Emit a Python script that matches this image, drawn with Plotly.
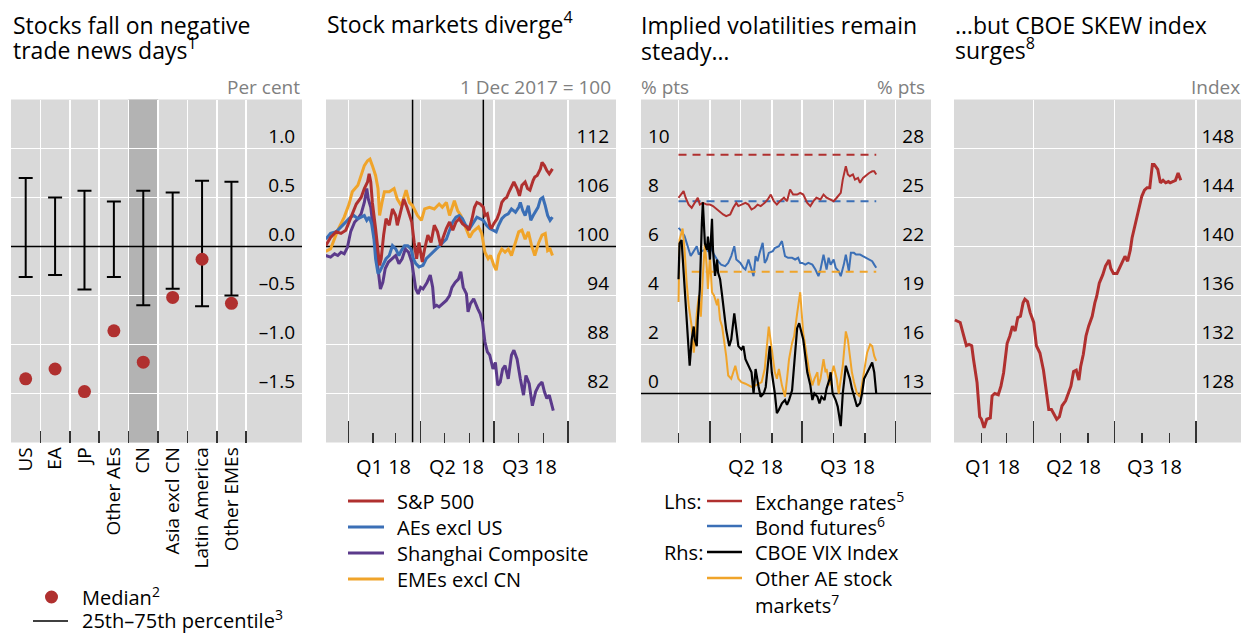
import pandas as pd
import plotly.graph_objects as go

W, H = 1243, 633
FONT = "Open Sans"
RED = "#b0302f"
BLUE = "#3b6fb6"
PURPLE = "#5b3a8b"
ORANGE = "#f0a42a"
BG = "#d9d9d9"

# ---------------- Panel 1 data ----------------
p1_categories = ["US", "EA", "JP", "Other AEs", "CN", "Asia excl CN", "Latin America", "Other EMEs"]
p1_median = [-1.35, -1.25, -1.48, -0.86, -1.18, -0.52, -0.13, -0.58]
p1_p25 = [-0.31, -0.29, -0.44, -0.31, -0.60, -0.43, -0.61, -0.50]
p1_p75 = [0.70, 0.50, 0.57, 0.46, 0.57, 0.55, 0.67, 0.66]
p1_yticks = [-2.0, -1.5, -1.0, -0.5, 0.0, 0.5, 1.0]
p1_yticktext = ["–2.0", "–1.5", "–1.0", "–0.5", "0.0", "0.5", "1.0"]

# ---------------- Panel 2 data (days from 1 Jan 2018) ----------------
p2_sp500_days = [-28, -22, -15, -9, -3, 3, 10, 16, 20, 24, 26, 28, 30, 34, 37, 39, 41, 44, 47, 51,
                 55, 59, 61, 64, 69, 73, 76, 79, 82, 85, 88, 92, 95, 99, 103, 107, 111, 115, 118, 122,
                 126, 130, 134, 138, 142, 147, 150, 154, 157, 160, 164, 168, 170, 173, 176, 178, 181, 185, 188, 191,
                 194, 197, 200, 203, 206, 210, 213, 216, 220, 223, 226, 230, 232, 235, 239, 241, 244, 247, 250, 254]
p2_sp500 = [100.1, 101.1, 101.8, 101.6, 102.0, 103.4, 105.2, 106.0, 107.1, 107.9, 108.9, 107.9, 105.4, 102.2, 99.7,
            97.7, 98.5, 101.4, 103.4, 102.6, 104.6, 103.8, 102.6, 103.8, 105.8, 104.8, 103.8, 103.0, 100.5, 98.5,
            100.5, 98.1, 99.7, 101.4, 100.5, 102.6, 101.8, 100.1, 101.1, 102.2, 103.0, 102.0, 103.0, 103.4, 102.8,
            102.4, 102.0, 103.4, 104.8, 105.4, 105.2, 104.8, 103.8, 104.0, 102.6, 102.2, 102.8, 103.4, 104.2, 105.4,
            105.8, 106.0, 106.7, 107.3, 107.9, 107.1, 106.2, 107.5, 107.9, 107.1, 106.9, 108.1, 108.5, 108.7, 109.5,
            110.3, 109.9, 109.3, 108.9, 109.5]
p2_aes_days = [-28, -22, -15, -7, -1, 3, 7, 12, 16, 20, 23, 26, 29, 32, 34, 37, 39, 43, 47, 51,
               55, 59, 63, 66, 70, 74, 78, 81, 84, 88, 93, 97, 101, 105, 109, 113, 117, 122, 126, 130,
               134, 138, 142, 146, 151, 155, 160, 164, 168, 172, 176, 180, 184, 187, 191, 195, 199, 203, 208, 212,
               214, 217, 220, 224, 227, 230, 234, 236, 239, 242, 245, 248, 251, 254]
p2_aes = [100.9, 101.6, 101.8, 102.6, 103.2, 103.6, 103.8, 103.4, 103.6, 103.8, 103.2, 103.6, 102.8, 100.9, 98.5,
          96.7, 96.9, 97.7, 98.5, 98.9, 100.1, 99.7, 98.9, 99.5, 100.1, 100.1, 99.7, 98.5, 97.9, 97.5,
          97.7, 98.5, 98.9, 99.3, 99.7, 100.1, 100.5, 100.9, 102.0, 103.0, 103.6, 103.8, 103.4, 102.6, 102.2,
          102.8, 103.6, 103.4, 103.2, 102.6, 102.2, 102.0, 101.8, 102.6, 103.4, 103.8, 104.0, 104.6, 104.2, 104.8,
          105.4, 104.4, 103.8, 105.0, 103.2, 103.8, 104.4, 104.8, 105.8, 106.0, 105.0, 103.8, 103.2, 103.6]
p2_shanghai_days = [-28, -22, -17, -13, -9, -5, -1, 3, 8, 12, 16, 20, 23, 25, 28, 31, 34, 37, 40, 43,
                    46, 50, 54, 59, 63, 67, 71, 75, 79, 81, 84, 87, 90, 93, 98, 102, 105, 107, 110, 113,
                    117, 122, 126, 129, 133, 137, 140, 143, 147, 149, 152, 156, 161, 164, 167, 170, 173, 176, 180, 183,
                    186, 189, 192, 195, 199, 203, 206, 210, 214, 218, 221, 225, 229, 233, 237, 241, 244, 247, 250, 253, 255]
p2_shanghai = [98.9, 98.7, 99.1, 98.9, 99.3, 99.1, 99.9, 101.8, 103.0, 103.4, 104.0, 105.4, 107.1, 105.8, 104.8,
               102.2, 99.7, 96.9, 94.8, 95.6, 97.3, 98.1, 98.5, 98.9, 97.9, 98.5, 99.7, 99.3, 98.1, 96.9,
               94.8, 94.2, 95.0, 94.8, 95.6, 96.5, 95.0, 92.6, 92.8, 92.6, 93.0, 93.4, 94.0, 95.0, 95.6,
               96.0, 96.9, 95.0, 94.2, 92.0, 93.0, 93.6, 92.4, 91.8, 90.7, 88.3, 87.1, 86.7, 85.0, 85.8,
               83.0, 83.4, 85.0, 85.4, 83.8, 86.7, 87.3, 86.2, 83.8, 81.8, 84.2, 83.2, 80.5, 82.2, 83.0,
               83.4, 82.2, 81.4, 81.8, 80.5, 79.9]
p2_emes_days = [-28, -22, -13, -5, 1, 5, 12, 16, 20, 24, 27, 30, 34, 37, 39, 42, 45, 51, 57, 61,
                66, 72, 76, 80, 86, 91, 95, 101, 107, 113, 117, 122, 126, 132, 136, 140, 147, 151, 155, 159,
                162, 166, 170, 174, 177, 181, 184, 187, 191, 195, 199, 203, 208, 212, 216, 220, 224, 228, 232, 237,
                241, 245, 248, 251, 254]
p2_emes = [99.4, 99.7, 102.0, 103.6, 105.2, 106.7, 107.5, 108.7, 109.9, 110.5, 110.7, 109.9, 108.7, 107.1, 103.8,
           105.4, 106.7, 106.7, 107.1, 105.8, 105.0, 106.9, 105.4, 105.0, 103.8, 103.2, 104.6, 104.8, 104.6, 105.2,
           104.8, 105.4, 103.8, 105.6, 104.4, 103.8, 102.2, 101.1, 101.8, 102.2, 102.4, 101.6, 99.3, 98.5, 98.9,
           97.7, 97.1, 98.9, 99.7, 99.3, 99.7, 98.9, 100.5, 101.8, 102.0, 100.9, 101.8, 100.1, 98.9, 100.5,
           101.4, 101.6, 99.5, 99.7, 98.9]
p2_event_dates = ["2018-03-22", "2018-06-18"]
p2_base = 100
p2_xrange = ["2017-12-04 08:00", "2018-11-30"]
p2_yrange = [76, 118]
p2_yticks = [76, 82, 88, 94, 100, 106, 112]

# ---------------- Panel 3 data (days from 1 Mar 2018) ----------------
p3_fx_days = [0, 2, 5, 7, 10, 13, 16, 19, 21, 24, 28, 31, 34, 38, 41, 44, 47, 51, 54, 57, 59, 62, 66, 69, 72,
              75, 78, 81, 85, 88, 91, 94, 97, 100, 104, 107, 110, 113, 117, 120, 123, 127, 130, 133, 136, 140, 143,
              146, 150, 153, 156, 160, 162, 165, 167, 169, 172, 174, 177, 179, 182, 184, 188, 191, 193, 195]
p3_fx = [7.99, 8.12, 8.26, 7.99, 7.71, 7.58, 7.78, 7.99, 7.71, 7.78, 7.71, 7.71, 7.65, 7.51, 7.44, 7.31, 7.24,
         7.31, 7.58, 7.78, 7.65, 7.71, 7.78, 7.71, 7.51, 7.58, 7.71, 7.65, 7.78, 7.92, 8.12, 7.85, 7.71, 7.85,
         7.99, 7.85, 8.33, 8.12, 8.12, 8.19, 8.12, 7.78, 7.65, 7.85, 7.99, 7.92, 8.12, 7.99, 7.92, 7.85, 7.99,
         8.19, 8.73, 9.28, 8.94, 8.87, 8.94, 8.73, 8.80, 8.60, 8.80, 8.87, 9.00, 9.07, 9.07, 8.94]
p3_bond_days = [0, 3, 6, 9, 12, 14, 18, 20, 23, 27, 29, 32, 35, 39, 42, 46, 49, 52, 55, 57, 61, 64, 66, 69, 72,
                74, 76, 78, 80, 83, 85, 87, 89, 93, 95, 99, 102, 105, 108, 112, 115, 118, 120, 122, 125, 128, 132,
                135, 138, 140, 143, 146, 148, 150, 153, 155, 158, 160, 163, 165, 168, 170, 173, 175, 179, 182, 185,
                189, 191, 193, 195]
p3_bond = [6.76, 6.63, 6.42, 6.01, 5.61, 5.74, 6.01, 5.67, 5.81, 5.88, 5.81, 5.94, 5.67, 5.40, 5.26, 5.20, 5.33,
           5.61, 6.01, 5.47, 5.33, 5.13, 5.06, 5.47, 4.99, 4.79, 5.61, 5.40, 5.74, 6.15, 5.33, 5.47, 5.74, 5.81,
           5.94, 6.01, 6.22, 5.61, 5.54, 5.54, 5.47, 5.54, 5.33, 5.33, 5.26, 5.33, 5.26, 5.06, 4.79, 5.06, 5.67,
           5.06, 5.54, 5.26, 5.47, 5.13, 4.99, 4.79, 5.26, 5.67, 4.99, 5.74, 5.74, 5.67, 5.67, 5.61, 5.54, 5.47,
           5.40, 5.26, 5.13]
p3_vix_days = [0, 1, 3, 6, 8, 10, 11, 13, 15, 16, 18, 19, 21, 23, 24, 26, 28, 29, 31, 33, 34, 36, 38, 39, 41,
               43, 45, 47, 50, 52, 55, 57, 59, 62, 64, 66, 69, 72, 74, 76, 79, 81, 84, 86, 89, 90, 92, 95, 97, 99,
               102, 105, 107, 109, 112, 114, 117, 119, 121, 123, 125, 127, 130, 132, 134, 137, 139, 141, 144, 146,
               149, 150, 152, 155, 157, 160, 162, 165, 166, 169, 171, 173, 176, 179, 181, 183, 186, 189, 191, 193, 195]
p3_vix = [20.0, 22.2, 22.4, 19.6, 17.7, 15.9, 14.7, 16.3, 17.1, 16.3, 15.9, 17.5, 19.4, 23.4, 24.7, 22.2, 21.8,
          22.6, 21.2, 23.7, 21.8, 20.2, 21.2, 20.4, 20.0, 19.0, 17.9, 16.9, 15.9, 16.3, 17.9, 16.7, 15.9, 15.7,
          15.9, 15.1, 14.7, 14.3, 13.0, 14.5, 13.4, 12.8, 13.0, 13.4, 15.3, 15.9, 14.3, 13.0, 11.8, 12.0, 12.4,
          12.6, 12.3, 12.6, 13.2, 14.9, 17.0, 17.3, 16.8, 16.3, 15.3, 14.3, 13.5, 12.6, 13.0, 12.8, 12.4, 12.8,
          12.6, 13.3, 13.9, 14.3, 13.0, 12.6, 12.2, 11.0, 13.0, 14.7, 14.5, 13.9, 13.3, 12.8, 12.2, 12.4, 13.0,
          13.9, 14.3, 14.7, 14.9, 14.3, 13.0]
p3_stocks_days = [0, 1, 4, 6, 8, 10, 13, 15, 16, 18, 20, 22, 24, 26, 28, 29, 31, 33, 35, 38, 39, 41, 43, 45, 47,
                  49, 52, 54, 56, 59, 62, 66, 69, 72, 76, 79, 82, 85, 87, 89, 92, 95, 97, 99, 102, 105, 107, 109,
                  112, 114, 117, 120, 122, 123, 125, 127, 129, 132, 134, 137, 138, 140, 143, 145, 146, 149, 150,
                  153, 156, 158, 160, 162, 165, 167, 169, 171, 173, 176, 179, 181, 183, 186, 189, 191, 193, 195]
p3_stocks = [18.6, 22.4, 23.1, 21.8, 19.8, 18.4, 17.1, 15.5, 16.1, 17.9, 19.0, 17.7, 20.2, 22.2, 20.6, 19.4, 21.4,
             19.2, 19.0, 18.4, 18.8, 17.5, 17.1, 16.3, 15.3, 14.1, 13.9, 14.3, 14.7, 13.9, 13.7, 13.6, 13.5, 13.4,
             13.5, 13.6, 13.7, 14.5, 15.9, 17.1, 15.7, 14.3, 13.9, 14.5, 13.5, 12.8, 13.9, 15.1, 16.1, 16.5, 17.9,
             19.2, 17.5, 16.7, 15.9, 15.1, 14.3, 13.5, 13.9, 14.3, 13.5, 13.9, 15.1, 14.3, 14.5, 13.5, 13.9, 14.7,
             13.9, 13.0, 13.9, 14.7, 16.8, 16.3, 15.3, 14.3, 13.7, 13.0, 12.8, 13.5, 14.3, 15.5, 16.0, 15.9, 15.3, 15.0]
p3_avg_fx = 9.75
p3_avg_bond = 7.85
p3_avg_stocks = 20.45
p3_avg_days = [0, 195]
p3_avg_stocks_days = [13, 195]
p3_xrange = ["2018-01-23", "2018-11-05"]
p3_lrange = [-2, 12]
p3_rrange = [10, 31]
p3_lticks = [0, 2, 4, 6, 8, 10]
p3_rticks = [10, 13, 16, 19, 22, 25, 28]

# ---------------- Panel 4 data (days from 1 Jan 2018) ----------------
p4_days = [1, 7, 11, 14, 17, 20, 22, 26, 29, 31, 34, 37, 41, 43, 46, 50, 53, 56, 60, 63, 66, 69, 72, 75, 78,
           80, 83, 86, 90, 93, 97, 101, 104, 107, 110, 112, 116, 119, 122, 126, 129, 132, 135, 138, 141, 143, 146,
           149, 152, 156, 159, 161, 164, 168, 171, 175, 177, 180, 184, 188, 191, 193, 196, 199, 201, 204, 207, 210,
           212, 215, 218, 221, 224, 226, 230, 233, 236, 239, 242, 244, 247, 250, 253, 256]
p4_skew = [134.0, 133.8, 132.7, 131.9, 132.0, 131.9, 130.8, 128.9, 126.1, 125.9, 125.2, 125.9, 126.0, 127.8, 128.0,
           127.9, 128.6, 129.7, 132.1, 132.7, 133.5, 133.1, 134.2, 134.3, 135.4, 135.7, 135.5, 134.6, 133.8, 131.9,
           131.3, 129.9, 128.3, 126.7, 126.7, 126.4, 125.9, 126.1, 127.0, 127.4, 128.0, 128.6, 129.8, 129.9, 129.1,
           130.2, 131.2, 132.7, 133.5, 134.3, 135.4, 135.9, 137.0, 137.7, 138.4, 138.9, 138.2, 137.8, 137.8, 138.4,
           138.8, 139.2, 138.8, 139.7, 140.7, 141.6, 142.7, 143.5, 144.1, 144.6, 144.8, 144.8, 146.7, 146.7, 146.3,
           145.2, 145.4, 145.2, 145.3, 145.2, 145.3, 145.4, 146.0, 145.4]
p4_yticks = [124, 128, 132, 136, 140, 144, 148]


def to_dates(base, days):
    return pd.Timestamp(base) + pd.to_timedelta(days, unit="D")


def px_x(px):
    return px / W


def px_y(py):
    return 1 - py / H


TOP, BOT = 99.5, 442.5
YDOM = [px_y(BOT), px_y(TOP)]

fig = go.Figure()

# ---------- Panel 1 traces ----------
fig.add_trace(go.Scatter(
    x=p1_categories, y=p1_p25, mode="markers",
    marker=dict(size=1, color="rgba(0,0,0,0)"),
    error_y=dict(type="data", symmetric=False,
                 array=[hi - lo for hi, lo in zip(p1_p75, p1_p25)],
                 arrayminus=[0] * len(p1_p25), color="black", thickness=2, width=7),
    xaxis="x", yaxis="y", showlegend=False, hoverinfo="skip"))
fig.add_trace(go.Scatter(
    x=p1_categories, y=p1_median, mode="markers",
    marker=dict(size=13, color=RED), xaxis="x", yaxis="y", showlegend=False))

# ---------- Panel 2 traces ----------
fig.add_trace(go.Scatter(x=p2_xrange, y=[p2_base, p2_base], mode="lines",
                         line=dict(color="black", width=1.5), xaxis="x2", yaxis="y2",
                         showlegend=False, hoverinfo="skip"))
for d in p2_event_dates:
    fig.add_trace(go.Scatter(x=[d, d], y=p2_yrange, mode="lines",
                             line=dict(color="black", width=1.5), xaxis="x2", yaxis="y2",
                             showlegend=False, hoverinfo="skip"))
for days, vals, col in [(p2_shanghai_days, p2_shanghai, PURPLE), (p2_emes_days, p2_emes, ORANGE),
                        (p2_aes_days, p2_aes, BLUE), (p2_sp500_days, p2_sp500, RED)]:
    fig.add_trace(go.Scatter(x=to_dates("2018-01-01", days), y=vals, mode="lines",
                             line=dict(color=col, width=3), xaxis="x2", yaxis="y2", showlegend=False))

# ---------- Panel 3 traces ----------
fig.add_trace(go.Scatter(x=p3_xrange, y=[0, 0], mode="lines",
                         line=dict(color="black", width=1.5), xaxis="x3", yaxis="y3",
                         showlegend=False, hoverinfo="skip"))
fig.add_trace(go.Scatter(x=to_dates("2018-03-01", p3_avg_days), y=[p3_avg_fx] * 2, mode="lines",
                         line=dict(color=RED, width=2, dash="8px,6px"), xaxis="x3", yaxis="y3", showlegend=False))
fig.add_trace(go.Scatter(x=to_dates("2018-03-01", p3_avg_days), y=[p3_avg_bond] * 2, mode="lines",
                         line=dict(color=BLUE, width=2, dash="8px,6px"), xaxis="x3", yaxis="y3", showlegend=False))
fig.add_trace(go.Scatter(x=to_dates("2018-03-01", p3_avg_stocks_days), y=[p3_avg_stocks] * 2, mode="lines",
                         line=dict(color=ORANGE, width=2, dash="8px,6px"), xaxis="x3", yaxis="y4", showlegend=False))
fig.add_trace(go.Scatter(x=to_dates("2018-03-01", p3_stocks_days), y=p3_stocks, mode="lines",
                         line=dict(color=ORANGE, width=2), xaxis="x3", yaxis="y4", showlegend=False))
fig.add_trace(go.Scatter(x=to_dates("2018-03-01", p3_vix_days), y=p3_vix, mode="lines",
                         line=dict(color="black", width=2.2), xaxis="x3", yaxis="y4", showlegend=False))
fig.add_trace(go.Scatter(x=to_dates("2018-03-01", p3_bond_days), y=p3_bond, mode="lines",
                         line=dict(color=BLUE, width=2), xaxis="x3", yaxis="y3", showlegend=False))
fig.add_trace(go.Scatter(x=to_dates("2018-03-01", p3_fx_days), y=p3_fx, mode="lines",
                         line=dict(color=RED, width=2), xaxis="x3", yaxis="y3", showlegend=False))

# ---------- Panel 4 traces ----------
fig.add_trace(go.Scatter(x=to_dates("2018-01-01", p4_days), y=p4_skew, mode="lines",
                         line=dict(color=RED, width=3), xaxis="x4", yaxis="y5", showlegend=False))

tickfont = dict(family=FONT, size=19, color="black")
common_y = dict(showgrid=True, gridcolor="white", gridwidth=1.5, zeroline=False, ticks="",
                tickfont=tickfont, ticklabelposition="inside", ticklabelshift=-12, ticklabelstandoff=4,
                fixedrange=True, showline=False)
common_x = dict(showgrid=True, gridcolor="white", gridwidth=1.5, zeroline=False, ticks="inside",
                tickcolor="#333333", tickwidth=1.5, showline=False, fixedrange=True)

quarter_ticks = ["2018-01-01", "2018-04-01", "2018-07-01", "2018-10-01"]
month_ticks = ["2018-02-01", "2018-03-01", "2018-05-01", "2018-06-01", "2018-08-01", "2018-09-01"]

fig.update_layout(
    width=W, height=H, autosize=False,
    margin=dict(l=0, r=0, t=0, b=0),
    paper_bgcolor="white", plot_bgcolor=BG,
    font=dict(family=FONT, size=19, color="black"),
    xaxis=dict(common_x, domain=[px_x(11), px_x(302)], anchor="y", type="category",
               categoryorder="array", categoryarray=p1_categories, range=[-0.5, 9.4],
               tickson="boundaries", ticklen=12, tickangle=-90, tickfont=tickfont),
    yaxis=dict(common_y, domain=YDOM, anchor="x", side="right", range=[-2, 1.5],
               tickmode="array", tickvals=p1_yticks, ticktext=p1_yticktext),
    xaxis2=dict(common_x, domain=[px_x(326), px_x(616)], anchor="y2", type="date",
                range=p2_xrange, tickmode="array", tickvals=quarter_ticks,
                showticklabels=False, ticklen=22,
                minor=dict(tickmode="array", tickvals=month_ticks, ticks="inside", ticklen=10,
                           tickcolor="#333333", tickwidth=1.5, showgrid=False)),
    yaxis2=dict(common_y, domain=YDOM, anchor="x2", side="right", range=p2_yrange,
                tickmode="array", tickvals=p2_yticks),
    xaxis3=dict(common_x, domain=[px_x(641), px_x(931)], anchor="y3", type="date",
                range=p3_xrange, tickmode="array",
                tickvals=["2018-04-01", "2018-07-01", "2018-10-01"], showticklabels=False, ticklen=22,
                minor=dict(tickmode="array", tickvals=["2018-03-01", "2018-05-01", "2018-06-01",
                                                       "2018-08-01", "2018-09-01"],
                           ticks="inside", ticklen=10, tickcolor="#333333", tickwidth=1.5,
                           showgrid=True, gridcolor="white", gridwidth=1.5)),
    yaxis3=dict(common_y, domain=YDOM, anchor="x3", side="left", range=p3_lrange,
                tickmode="array", tickvals=p3_lticks),
    yaxis4=dict(common_y, domain=YDOM, anchor="x3", overlaying="y3", side="right", range=p3_rrange,
                tickmode="array", tickvals=p3_rticks, showgrid=False),
    xaxis4=dict(common_x, domain=[px_x(954), px_x(1241)], anchor="y5", type="date",
                range=["2018-01-01", "2018-11-21"], tickmode="array",
                tickvals=["2018-04-01", "2018-07-01", "2018-10-01"], showticklabels=False, ticklen=22,
                minor=dict(tickmode="array", tickvals=["2018-02-01", "2018-03-01", "2018-05-01",
                                                       "2018-06-01", "2018-08-01", "2018-09-01"],
                           ticks="inside", ticklen=10, tickcolor="#333333", tickwidth=1.5, showgrid=False)),
    yaxis5=dict(common_y, domain=YDOM, anchor="x4", side="right", range=[124, 152],
                tickmode="array", tickvals=p4_yticks),
)

shapes = []
# CN shading
shapes.append(dict(type="rect", xref="x", yref="y domain", x0=3.5, x1=4.5, y0=0, y1=1,
                   fillcolor="#b3b3b3", line=dict(width=0), layer="below"))
# zero line panel 1
shapes.append(dict(type="line", xref="x domain", yref="y", x0=0, x1=1, y0=0, y1=0,
                   line=dict(color="black", width=1.5), layer="above"))

annotations = []


def ann(text, px, py, xanchor="left", yanchor="middle", size=19, color="black", xref="paper", x=None):
    annotations.append(dict(text=text, x=(px_x(px) if x is None else x), y=px_y(py), xref=xref, yref="paper",
                            xanchor=xanchor, yanchor=yanchor, showarrow=False,
                            font=dict(family=FONT, size=size, color=color)))


# Titles
TS = 23
ann("Stocks fall on negative", 11, 25, size=TS)
ann("trade news days<sup>1</sup>", 11, 49, size=TS)
ann("Stock markets diverge<sup>4</sup>", 325, 23, size=TS)
ann("Implied volatilities remain", 639, 25, size=TS)
ann("steady…", 639, 51, size=TS)
ann("…but CBOE SKEW index", 953, 25, size=TS)
ann("surges<sup>8</sup>", 953, 49, size=TS)

GREY = "#808080"
ann("Per cent", 302, 87, xanchor="right", color=GREY)
ann("1 Dec 2017 = 100", 613, 87, xanchor="right", color=GREY)
ann("% pts", 639, 87, xanchor="left", color=GREY)
ann("% pts", 927, 87, xanchor="right", color=GREY)
ann("Index", 1242, 87, xanchor="right", color=GREY)

# Quarter labels
QY = 466
LS = 20
for q, d in [("Q1 18", "2018-02-14"), ("Q2 18", "2018-05-16"), ("Q3 18", "2018-08-15")]:
    ann(q, 0, QY, xanchor="center", xref="x2", x=d, size=LS)
for q, d in [("Q2 18", "2018-05-16"), ("Q3 18", "2018-08-15")]:
    ann(q, 0, QY, xanchor="center", xref="x3", x=d, size=LS)
for q, d in [("Q1 18", "2018-02-14"), ("Q2 18", "2018-05-16"), ("Q3 18", "2018-08-15")]:
    ann(q, 0, QY, xanchor="center", xref="x4", x=d, size=LS)

# Panel 1 legend
shapes.append(dict(type="circle", xref="paper", yref="paper",
                   x0=px_x(45), x1=px_x(58), y0=px_y(603.5), y1=px_y(590.5),
                   fillcolor=RED, line=dict(width=0)))
ann("Median<sup>2</sup>", 80, 596, size=LS)
shapes.append(dict(type="line", xref="paper", yref="paper", x0=px_x(33), x1=px_x(68),
                   y0=px_y(621), y1=px_y(621), line=dict(color="black", width=1.5)))
ann("25th–75th percentile<sup>3</sup>", 80, 619, size=LS)

# Panel 2 legend
for label, col, y in [("S&P 500", RED, 501), ("AEs excl US", BLUE, 527),
                      ("Shanghai Composite", PURPLE, 553), ("EMEs excl CN", ORANGE, 579)]:
    shapes.append(dict(type="line", xref="paper", yref="paper", x0=px_x(348), x1=px_x(384),
                       y0=px_y(y), y1=px_y(y), line=dict(color=col, width=3)))
    ann(label, 395, y, size=LS)

# Panel 3 legend
ann("Lhs:", 662, 501, size=LS)
ann("Rhs:", 662, 552, size=LS)
for label, col, y in [("Exchange rates<sup>5</sup>", RED, 501), ("Bond futures<sup>6</sup>", BLUE, 526),
                      ("CBOE VIX Index", "black", 552), ("Other AE stock", ORANGE, 578)]:
    shapes.append(dict(type="line", xref="paper", yref="paper", x0=px_x(707), x1=px_x(742),
                       y0=px_y(y), y1=px_y(y), line=dict(color=col, width=2.5)))
    ann(label, 753, y, size=LS)
ann("markets<sup>7</sup>", 753, 604, size=LS)

fig.update_layout(shapes=shapes, annotations=annotations)
fig.write_html("out.html",
               config={"displayModeBar": False, "staticPlot": True},
               post_script="document.body.style.margin='0';document.body.style.overflow='hidden';")
